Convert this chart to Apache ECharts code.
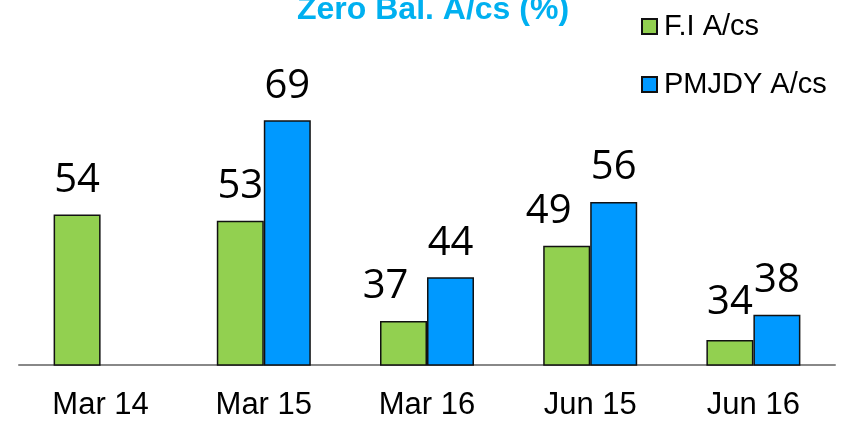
<!DOCTYPE html>
<html>
<head>
<meta charset="utf-8">
<script src="https://cdn.jsdelivr.net/npm/echarts@6/dist/echarts.min.js"></script>
<style>
html,body{margin:0;padding:0;background:#fff;}
#chart{width:841px;height:421px;}
</style>
</head>
<body>
<div id="chart"></div>
<script>
const categories = ['Mar 14', 'Mar 15', 'Mar 16', 'Jun 15', 'Jun 16'];
const fiValues = [54, 53, 37, 49, 34];
const pmjdyValues = [null, 69, 44, 56, 38];
const seriesNames = ['F.I A/cs', 'PMJDY A/cs'];
const titleText = 'Zero Bal. A/cs (%)';

// label nudges (style only)
const fiLabelOffsets = [[0,0],[0,0],[-18,0],[-18,0],[0,-3]];

const chart = echarts.init(document.getElementById('chart'), null, {renderer:'canvas'});
const labelStyle = {
  show: true, position: 'top', distance: 14,
  fontFamily: 'Open Sans', fontSize: 40, color: '#000'
};
chart.setOption({
  animation: false,
  backgroundColor: '#fff',
  title: {
    text: titleText, left: 292, top: -11,
    textStyle: {fontFamily: 'Liberation Sans', fontWeight: 'bold', fontSize: 32, color: '#00B0F0'}
  },
  legend: {
    orient: 'vertical', left: 636, top: 7, padding: 5,
    itemWidth: 15, itemHeight: 15, itemGap: 29,
    icon: 'rect',
    textStyle: {fontFamily: 'Liberation Sans', fontSize: 29, color: '#000', padding: [0,0,0,2]},
    data: seriesNames
  },
  grid: {left: 19, right: 6, top: 51.3, bottom: 54, containLabel: false},
  xAxis: {
    type: 'category', data: categories,
    axisLine: {lineStyle: {color: '#888', width: 2}},
    axisTick: {show: false},
    axisLabel: {fontFamily: 'Liberation Sans', fontSize: 31, color: '#000', margin: 25}
  },
  yAxis: {
    type: 'value', min: 30, max: 80, show: false,
    splitLine: {show: false}
  },
  series: [
    {
      name: seriesNames[0], type: 'bar', barWidth: 47, barGap: '0%',
      itemStyle: {color: '#92D050', borderColor: '#111', borderWidth: 1.5},
      label: labelStyle,
      data: fiValues.map((v, i) => ({value: v, label: {offset: fiLabelOffsets[i]}}))
    },
    {
      name: seriesNames[1], type: 'bar', barWidth: 47, barGap: '0%',
      itemStyle: {color: '#0099FF', borderColor: '#111', borderWidth: 1.5},
      label: labelStyle,
      data: pmjdyValues
    }
  ]
});
</script>
</body>
</html>
